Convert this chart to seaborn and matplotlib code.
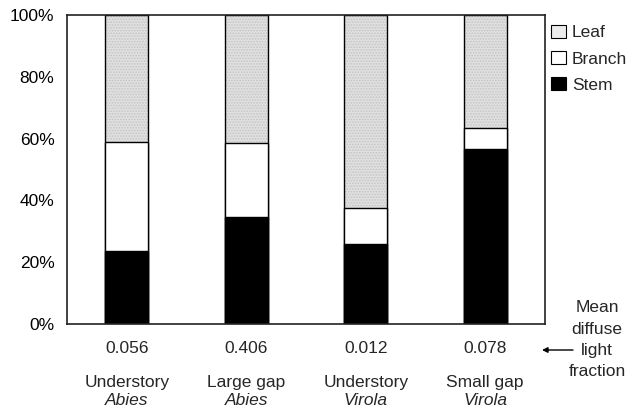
import matplotlib
matplotlib.use("Agg")
import matplotlib.pyplot as plt
import matplotlib.transforms as mtransforms
from matplotlib.patches import Patch
import seaborn as sns
import pandas as pd

# ---- data ----
keys = ["A", "B", "C", "D"]
habitats = ["Understory", "Large gap", "Understory", "Small gap"]
genera = ["Abies", "Abies", "Virola", "Virola"]
light_fraction = ["0.056", "0.406", "0.012", "0.078"]
stem = [23.5, 34.5, 26.0, 56.5]
branch = [35.5, 24.2, 11.4, 7.0]
leaf = [41.0, 41.3, 62.6, 36.5]
yticks = [0, 20, 40, 60, 80, 100]

df = pd.DataFrame({"key": keys, "stem": stem, "branch": branch, "leaf": leaf})
df["stem_branch"] = df["stem"] + df["branch"]
df["total"] = df["stem_branch"] + df["leaf"]

sns.set_style("white")
plt.rcParams["font.family"] = ["Liberation Sans", "DejaVu Sans"]
plt.rcParams["hatch.linewidth"] = 0.8
FS = 12.5

fig = plt.figure(figsize=(6.39, 4.09), dpi=100)
ax = fig.add_axes([67 / 639, 1 - 324 / 409, (545 - 67) / 639, (324 - 15) / 409])

W = 0.36
LEAF_FC = "#e0e0e0"
# leaf (stippled) layer
sns.barplot(data=df, x="key", y="total", order=keys, color=LEAF_FC, saturation=1,
            width=W, errorbar=None, hatch="......", edgecolor="#c4c4c4", linewidth=0, ax=ax)
# leaf outline
sns.barplot(data=df, x="key", y="total", order=keys, color="black", fill=False,
            width=W, errorbar=None, linewidth=1.0, ax=ax)
# branch
sns.barplot(data=df, x="key", y="stem_branch", order=keys, color="white", saturation=1,
            width=W, errorbar=None, edgecolor="black", linewidth=1.0, ax=ax)
# stem
sns.barplot(data=df, x="key", y="stem", order=keys, color="black", saturation=1,
            width=W, errorbar=None, edgecolor="black", linewidth=1.0, ax=ax)

ax.set_xlim(-0.5, 3.5)
ax.set_ylim(0, 100)
ax.set_xlabel("")
ax.set_ylabel("")
ax.set_yticks(yticks)
ax.set_yticklabels([f"{v}%" for v in yticks], fontsize=FS)
ax.tick_params(axis="y", direction="in", length=5, width=1, pad=9, colors="black")
ax.set_xticks([])
ax.set_xticks([0.5, 1.5, 2.5], minor=True)
ax.tick_params(axis="x", which="minor", direction="inout", length=6, width=1)
for s in ax.spines.values():
    s.set_color("#222222")
    s.set_linewidth(1.2)

trans = mtransforms.blended_transform_factory(ax.transData, ax.transAxes)
for i in range(len(keys)):
    ax.text(i, -0.078, light_fraction[i], transform=trans, ha="center", va="center", fontsize=FS)
    ax.text(i, -0.188, habitats[i], transform=trans, ha="center", va="center", fontsize=FS)
    ax.text(i, -0.246, genera[i], transform=trans, ha="center", va="center", fontsize=FS,
            style="italic")

# right-side annotation
for txt, ypx in [("Mean", 308), ("diffuse", 329), ("light", 350), ("fraction", 371)]:
    fig.text(597 / 639, 1 - ypx / 409, txt, ha="center", va="center", fontsize=FS)
ax.annotate("", xy=(542 / 639, 1 - 350 / 409), xytext=(573 / 639, 1 - 350 / 409),
            xycoords="figure fraction", textcoords="figure fraction",
            arrowprops=dict(arrowstyle="-|>", color="black", lw=1.0,
                            mutation_scale=8, shrinkA=0, shrinkB=0),
            annotation_clip=False)

handles = [Patch(facecolor="#ececec", edgecolor="black", linewidth=0.8, label="Leaf"),
           Patch(facecolor="white", edgecolor="black", linewidth=0.8, label="Branch"),
           Patch(facecolor="black", edgecolor="black", linewidth=0.8, label="Stem")]
fig.legend(handles=handles, loc="upper left", bbox_to_anchor=(551 / 639, 1 - 25 / 409),
           frameon=False, fontsize=FS, handlelength=0.85, handleheight=0.75,
           handletextpad=0.35, labelspacing=0.62, borderpad=0, borderaxespad=0)

fig.savefig("out.png", dpi=100)
